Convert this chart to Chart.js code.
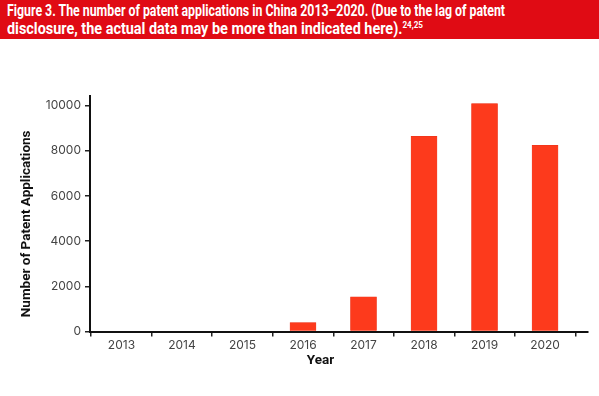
<!DOCTYPE html>
<html lang="en">
<head>
  <meta charset="UTF-8" />
  <title>Patent Applications in China 2013–2020</title>
  <script src="https://cdn.jsdelivr.net/npm/chart.js"></script>
  <style>
    * { box-sizing: border-box; }
    body { margin: 0; width: 599px; height: 396px; background: #fff; overflow: hidden; }
    .header {
      height: 39px;
      background: #e00b14;
      color: #fff;
      font-family: Roboto, 'Liberation Sans', sans-serif;
      font-weight: bold;
      font-size: 16px;
      line-height: 18px;
      padding: 2px 0 0 7px;
      white-space: nowrap;
    }
    .header .line { display: inline-block; transform-origin: left center; }
    .header sup { font-size: 9px; vertical-align: 6px; line-height: 0; }
    .chart-box { position: absolute; left: 0; top: 39px; width: 599px; height: 357px; }
  </style>
</head>
<body>
  <div class="header">
    <span class="line" data-w="498">Figure 3. The number of patent applications in China 2013–2020. (Due to the lag of patent</span><br>
    <span class="line" data-w="416">disclosure, the actual data may be more than indicated here).<sup>24,25</sup></span>
  </div>
  <div class="chart-box"><canvas id="patentChart"></canvas></div>
  <script>
    const years = [2013, 2014, 2015, 2016, 2017, 2018, 2019, 2020];
    const applications = [0, 0, 0, 390, 1530, 8640, 10080, 8240];
    const yTicks = [0, 2000, 4000, 6000, 8000, 10000];

    // squeeze the header lines to the condensed width of the original
    document.querySelectorAll('.header .line').forEach(el => {
      const w = el.getBoundingClientRect().width;
      el.style.transform = `scaleX(${el.dataset.w / w})`;
    });

    const tickFont = { family: 'Inter, Roboto, sans-serif', size: 12 };
    const titleFont = { family: 'Roboto, Inter, sans-serif', size: 13.5, weight: 'bold' };
    const pad = n => '\u00a0'.repeat(n);

    new Chart(document.getElementById('patentChart'), {
      type: 'bar',
      data: {
        datasets: [{
          data: years.map((y, i) => ({ x: y, y: applications[i] })),
          backgroundColor: '#fd3a1c',
          borderColor: '#e8331a',
          borderWidth: 0.5,
          barThickness: 26
        }]
      },
      options: {
        responsive: true,
        maintainAspectRatio: false,
        animation: false,
        layout: { padding: { top: 57, right: 11, left: 0, bottom: 0 } },
        plugins: { legend: { display: false }, tooltip: { enabled: false } },
        scales: {
          x: {
            type: 'linear',
            offset: false,
            min: 2012.48,
            max: 2020.71,
            afterBuildTicks: s => { s.ticks = years.map(v => ({ value: v })); },
            afterFit: s => { s.height = 64.5; },
            ticks: { color: '#444', font: tickFont, padding: 2, callback: v => String(v) },
            grid: { drawOnChartArea: false, tickLength: 5, color: '#222', lineWidth: 1.5 },
            border: { color: '#111', width: 2 },
            title: { display: true, text: 'Year' + pad(11), color: '#111', font: titleFont, padding: { top: 0, bottom: 27 } }
          },
          y: {
            min: 0,
            max: 10420,
            afterBuildTicks: s => { s.ticks = yTicks.map(v => ({ value: v })); },
            afterFit: s => { s.width = 90; },
            ticks: { color: '#444', font: tickFont, padding: 4, callback: v => String(v) },
            grid: { drawOnChartArea: false, tickLength: 5, color: '#222', lineWidth: 1.5 },
            border: { color: '#111', width: 2 },
            title: { display: true, text: 'Number of Patent Applications' + pad(6), color: '#111', font: titleFont, padding: { top: 19, bottom: 0 } }
          }
        }
      }
    });
  </script>
</body>
</html>
